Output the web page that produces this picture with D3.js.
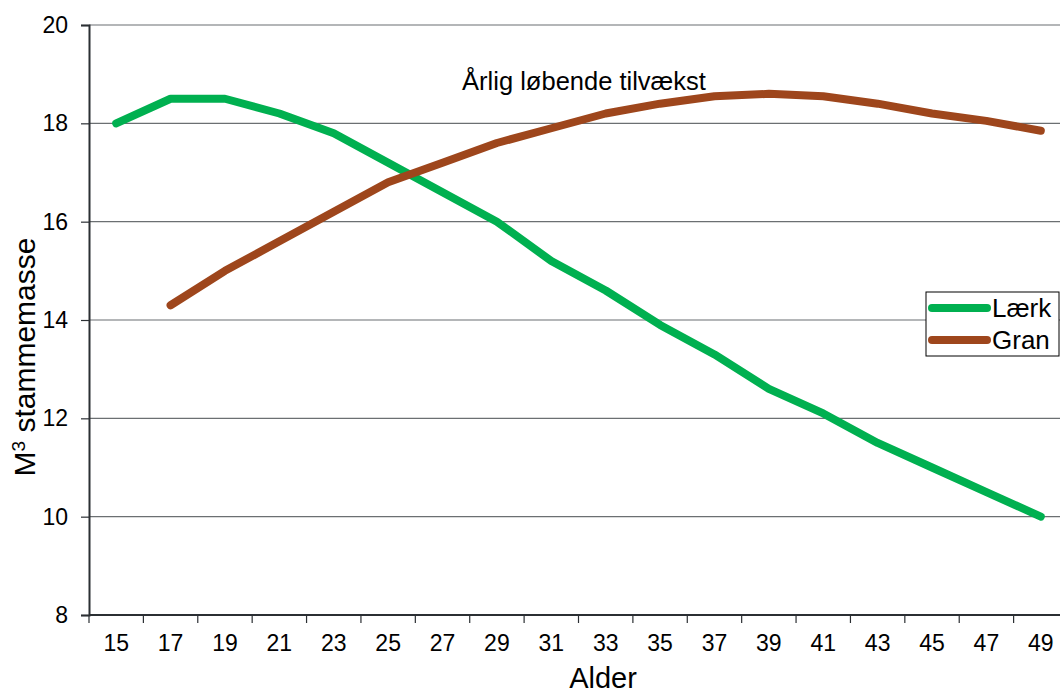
<!DOCTYPE html>
<html>
<head>
<meta charset="utf-8">
<script src="https://cdnjs.cloudflare.com/ajax/libs/d3/7.8.5/d3.min.js"></script>
<style>
  html, body { margin: 0; padding: 0; background: #fff; }
  svg { display: block; font-family: "Liberation Sans", Arial, sans-serif; }
</style>
</head>
<body>
<svg id="chart" width="1060" height="694"></svg>
<script>
const ages = [15,17,19,21,23,25,27,29,31,33,35,37,39,41,43,45,47,49];
const laerk = [18.0,18.5,18.5,18.2,17.8,17.2,16.6,16.0,15.2,14.6,13.9,13.3,12.6,12.1,11.5,11.0,10.5,10.0];
const gran  = [null,14.3,15.0,15.6,16.2,16.8,17.2,17.6,17.9,18.2,18.4,18.55,18.6,18.55,18.4,18.2,18.05,17.85];
const yTicks = [8,10,12,14,16,18,20];
const seriesNames = ["Lærk","Gran"];
const seriesColors = ["#00B050","#9E461C"];
const title = "Årlig løbende tilvækst";
const xTitle = "Alder";

const svg = d3.select("#chart");
const pLeft = 89, pRight = 1068, pTop = 25, pBottom = 615;

const x = d3.scaleBand().domain(ages).range([pLeft, pRight]);
const y = d3.scaleLinear().domain([8,20]).range([pBottom, pTop]);

// gridlines
svg.append("g").selectAll("line").data(yTicks.filter(d => d > 8)).join("line")
  .attr("x1", pLeft).attr("x2", 1060)
  .attr("y1", d => y(d)).attr("y2", d => y(d))
  .attr("stroke", "#6b6f72").attr("stroke-width", 1.2);

// y axis
const yAxis = svg.append("g").attr("transform", `translate(${pLeft},0)`)
  .call(d3.axisLeft(y).tickValues(yTicks).tickSize(8).tickPadding(13).tickFormat(d3.format("d")));
yAxis.select(".domain").attr("stroke", "#2b2f33").attr("stroke-width", 2);
yAxis.selectAll(".tick line").attr("stroke", "#2b2f33").attr("stroke-width", 1.2);
yAxis.selectAll(".tick text").attr("font-size", 23).attr("fill", "#000")
  .attr("font-family", "Liberation Sans, Arial, sans-serif");

// x axis labels
const xAxis = svg.append("g").attr("transform", `translate(0,${pBottom})`)
  .call(d3.axisBottom(x).tickSize(0).tickPadding(20).tickSizeOuter(0));
xAxis.select(".domain").remove();
xAxis.selectAll(".tick text").attr("font-size", 23).attr("fill", "#000")
  .attr("font-family", "Liberation Sans, Arial, sans-serif");

// x axis line & boundary ticks
svg.append("line").attr("x1", pLeft).attr("x2", 1060).attr("y1", pBottom).attr("y2", pBottom)
  .attr("stroke", "#2b2f33").attr("stroke-width", 2.2);
const bounds = ages.map(a => x(a)).concat([x.range()[1]]);
svg.append("g").selectAll("line").data(bounds).join("line")
  .attr("x1", d => d).attr("x2", d => d).attr("y1", pBottom).attr("y2", pBottom + 8)
  .attr("stroke", "#2b2f33").attr("stroke-width", 1.2);

// lines
const line = d3.line()
  .defined(d => d[1] !== null)
  .x(d => x(d[0]) + x.bandwidth() / 2)
  .y(d => y(d[1]));

[laerk, gran].forEach((vals, i) => {
  svg.append("path")
    .datum(ages.map((a, j) => [a, vals[j]]))
    .attr("d", line)
    .attr("fill", "none")
    .attr("stroke", seriesColors[i])
    .attr("stroke-width", 8)
    .attr("stroke-linecap", "round")
    .attr("stroke-linejoin", "round");
});

// title
svg.append("text").attr("x", 584).attr("y", 90).attr("text-anchor", "middle")
  .attr("font-size", 25.5).text(title);

// axis titles
svg.append("text").attr("x", 603).attr("y", 688).attr("text-anchor", "middle")
  .attr("font-size", 29).text(xTitle);
const yt = svg.append("text").attr("transform", "translate(35,357) rotate(-90)")
  .attr("text-anchor", "middle").attr("font-size", 30);
yt.append("tspan").text("M");
yt.append("tspan").attr("baseline-shift", "super").attr("font-size", 19).text("3");
yt.append("tspan").text(" stammemasse");

// legend
const lg = svg.append("g").attr("transform", "translate(926,292)");
lg.append("rect").attr("width", 133).attr("height", 64).attr("fill", "#fff")
  .attr("stroke", "#000").attr("stroke-width", 1);
seriesNames.forEach((n, i) => {
  const cy = 16 + i * 32;
  lg.append("line").attr("x1", 6).attr("x2", 61).attr("y1", cy).attr("y2", cy)
    .attr("stroke", seriesColors[i]).attr("stroke-width", 8).attr("stroke-linecap", "round");
  lg.append("text").attr("x", 66).attr("y", cy + 9).attr("font-size", 26).text(n);
});
</script>
</body>
</html>
